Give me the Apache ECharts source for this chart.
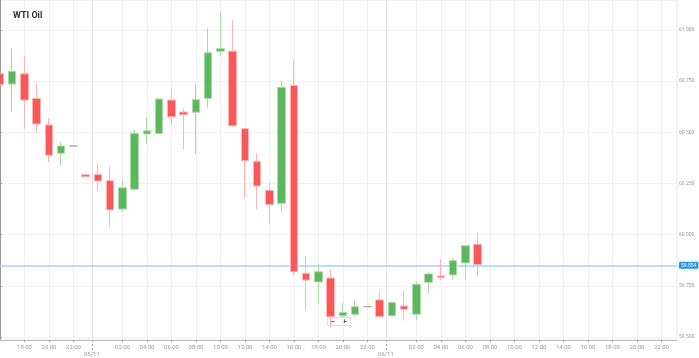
<!DOCTYPE html>
<html>
<head>
<meta charset="utf-8">
<script src="https://cdn.jsdelivr.net/npm/echarts@6/dist/echarts.min.js"></script>
<style>
html,body{margin:0;padding:0;background:#fff;}
#chart{width:699px;height:358px;}
</style>
</head>
<body>
<div id="chart"></div>
<script>
// Hourly candles, first candle at 16:00 (index 0)
var startHour = 16;
var dateLabels = ['05/11', '06/11'];
var dateSeparators = [7.5, 31.5];
var yTicks = [59.5, 59.75, 60.0, 60.25, 60.5, 60.75, 61.0];
var lastPrice = 59.854;

var opens  = [60.788, 60.736, 60.786, 60.666, 60.536, 60.398, 60.433, 60.293, 60.294, 60.264, 60.125, 60.222, 60.492, 60.495, 60.658, 60.599, 60.598, 60.666, 60.896, 60.897, 60.518, 60.357, 60.217, 60.153, 60.729, 59.811, 59.769, 59.788, 59.603, 59.611, 59.648, 59.681, 59.603, 59.651, 59.611, 59.767, 59.798, 59.803, 59.862, 59.953];
var closes = [60.733, 60.798, 60.658, 60.541, 60.388, 60.433, 60.433, 60.283, 60.262, 60.121, 60.229, 60.495, 60.508, 60.663, 60.576, 60.586, 60.660, 60.889, 60.909, 60.532, 60.361, 60.238, 60.147, 60.720, 59.819, 59.778, 59.819, 59.599, 59.619, 59.648, 59.648, 59.599, 59.668, 59.635, 59.757, 59.808, 59.790, 59.873, 59.946, 59.854];
var lows   = [60.601, 60.601, 60.518, 60.498, 60.357, 60.337, 60.433, 60.282, 60.215, 60.034, 60.112, 60.218, 60.443, 60.495, 60.536, 60.419, 60.393, 60.617, 60.873, 60.528, 60.177, 60.124, 60.051, 60.108, 59.800, 59.629, 59.665, 59.543, 59.598, 59.599, 59.648, 59.599, 59.603, 59.580, 59.583, 59.714, 59.778, 59.778, 59.778, 59.798];
var highs  = [60.853, 60.912, 60.873, 60.740, 60.569, 60.451, 60.433, 60.296, 60.349, 60.332, 60.267, 60.516, 60.576, 60.668, 60.718, 60.617, 60.739, 61.008, 61.088, 61.049, 60.521, 60.398, 60.257, 60.751, 60.853, 59.896, 59.860, 59.831, 59.665, 59.681, 59.648, 59.725, 59.668, 59.725, 59.770, 59.816, 59.880, 59.889, 59.950, 60.010];

var xMin = 0, xMax = 55.27;

var data = [];
for (var i = 0; i < opens.length; i++) {
  data.push([i, opens[i], closes[i], lows[i], highs[i]]);
}

var hourTicks = [];
for (var k = 2; k <= 54; k += 2) {
  if ((startHour + k) % 24 !== 0) hourTicks.push(k);
}
function hourLabel(v) {
  var h = (startHour + Math.round(v)) % 24;
  return (h < 10 ? '0' : '') + h + ':00';
}

var chart = echarts.init(document.getElementById('chart'), null, {renderer: 'canvas'});
chart.setOption({
  animation: false,
  backgroundColor: '#fff',
  textStyle: {fontFamily: 'Roboto'},
  title: {
    text: 'WTI Oil', left: 8, top: 6,
    textStyle: {fontSize: 9, fontWeight: 'bold', color: '#333', fontFamily: 'Roboto'}
  },
  grid: {
    left: 0, right: 22, top: 0, bottom: 18, show: true,
    borderColor: '#e6e6e6', borderWidth: 1, backgroundColor: 'transparent'
  },
  xAxis: [{
    type: 'value', min: xMin, max: xMax, position: 'bottom',
    axisLine: {show: true, lineStyle: {color: '#bbb', width: 1}},
    axisTick: {show: true, customValues: hourTicks, length: 2, lineStyle: {color: '#999'}},
    axisLabel: {customValues: hourTicks, formatter: hourLabel, fontSize: 6, color: '#999', margin: 4},
    splitLine: {show: true, lineStyle: {color: '#f0f0f0', width: 1}}
  }, {
    type: 'value', min: xMin, max: xMax, position: 'bottom', offset: 0,
    axisLine: {show: false},
    axisTick: {show: true, customValues: dateSeparators, length: 10, lineStyle: {color: '#aaa', type: [2, 2]}},
    axisLabel: {
      customValues: dateSeparators, fontSize: 6, color: '#999', margin: 11,
      formatter: function (v) { return dateLabels[dateSeparators.indexOf(v)] || ''; }
    },
    splitLine: {show: true, lineStyle: {color: '#e2e2e2', width: 1}}
  }],
  yAxis: {
    type: 'value', position: 'right', min: 59.485, max: 61.147, scale: true,
    axisLine: {show: true, lineStyle: {color: '#999', width: 1}},
    axisTick: {show: true, inside: false, length: 2, customValues: yTicks, lineStyle: {color: '#999'}},
    axisLabel: {customValues: yTicks, fontSize: 5, color: '#999', margin: 2,
      formatter: function (v) { return v.toFixed(3); }},
    splitLine: {show: true, lineStyle: {color: '#f2f2f2', width: 1}}
  },
  series: [{
    type: 'candlestick',
    xAxisIndex: 0,
    encode: {x: 0, y: [1, 2, 3, 4]},
    data: data,
    barWidth: 8,
    clip: true,
    itemStyle: {
      color: '#5cb85c', color0: '#fa5858',
      borderColor: '#abd9a5', borderColor0: '#ffb3b3',
      borderColorDoji: '#aaaaaa', borderWidth: 1
    },
    markLine: {
      silent: true, symbol: 'none', z: 1,
      data: [{
        yAxis: lastPrice,
        lineStyle: {color: '#a6d3f5', type: 'solid', width: 1.5, opacity: 1},
        label: {
          show: true, position: 'end', distance: 2,
          formatter: function () { return lastPrice.toFixed(3); },
          backgroundColor: '#2196f3', color: '#fff', fontSize: 5,
          padding: [1, 2, 1, 2], borderRadius: 1
        }
      }]
    }
  }],
  graphic: [{
    type: 'group', left: 327, top: 317,
    children: [
      {type: 'rect', shape: {x: 0, y: 0, width: 23, height: 8}, style: {fill: '#fff', stroke: '#e0e0e0', lineWidth: 1}},
      {type: 'text', x: 5, y: 4, style: {text: '−', fontSize: 8, fontWeight: 'bold', fill: '#555', align: 'center', verticalAlign: 'middle'}},
      {type: 'text', x: 17, y: 4, style: {text: '+', fontSize: 8, fontWeight: 'bold', fill: '#555', align: 'center', verticalAlign: 'middle'}}
    ]
  }]
});
</script>
</body>
</html>
